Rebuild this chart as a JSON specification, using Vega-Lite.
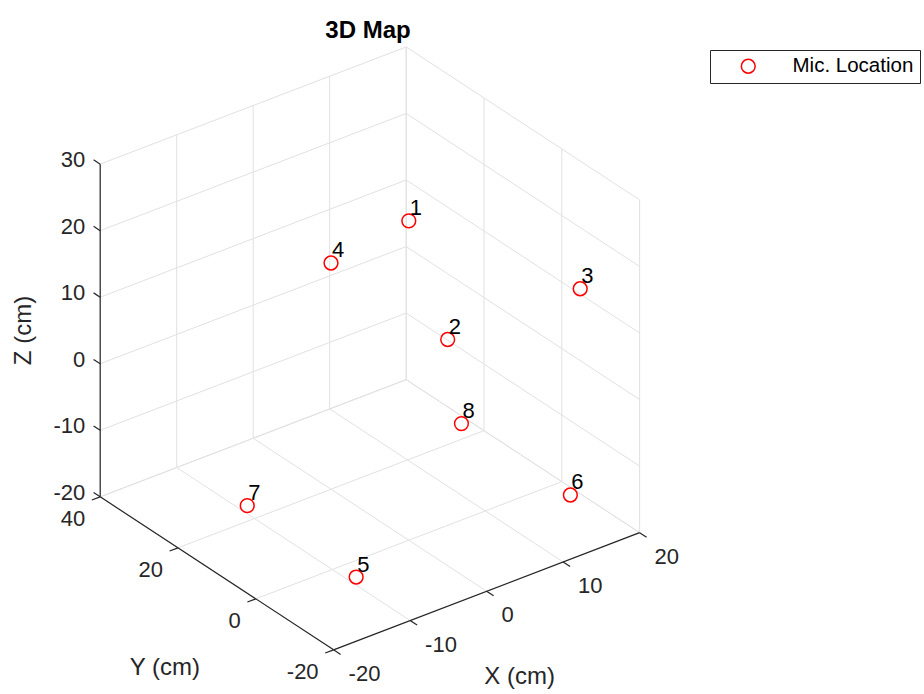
{
  "$schema": "https://vega.github.io/schema/vega-lite/v6.json",
  "width": 924,
  "height": 694,
  "autosize": {"type": "none"},
  "padding": 0,
  "background": "white",
  "config": {"view": {"stroke": null}, "font": "Liberation Sans"},
  "title": {"text": "3D Map", "fontSize": 24, "fontWeight": "bold", "font": "Liberation Sans", "color": "#000000", "anchor": "middle", "frame": "group", "dx": -94, "baseline": "alphabetic", "offset": -36, "dy": 26},
  "datasets": {
    "mics": [
      {"id": "1", "X": 0, "Y": 0, "Z": 28},
      {"id": "2", "X": 0, "Y": -10, "Z": 14},
      {"id": "3", "X": 17.32, "Y": -10, "Z": 14},
      {"id": "4", "X": 0, "Y": 20, "Z": 14},
      {"id": "5", "X": -14, "Y": -14, "Z": -14},
      {"id": "6", "X": 14, "Y": -14, "Z": -14},
      {"id": "7", "X": -14, "Y": 14, "Z": -14},
      {"id": "8", "X": 14, "Y": 14, "Z": -14}
    ],
    "grid": [
      {"a": "fx", "t": -20}, {"a": "fx", "t": -10}, {"a": "fx", "t": 0}, {"a": "fx", "t": 10}, {"a": "fx", "t": 20},
      {"a": "fy", "t": -20}, {"a": "fy", "t": 0}, {"a": "fy", "t": 20}, {"a": "fy", "t": 40},
      {"a": "bx", "t": -20}, {"a": "bx", "t": -10}, {"a": "bx", "t": 0}, {"a": "bx", "t": 10}, {"a": "bx", "t": 20},
      {"a": "bz", "t": -20}, {"a": "bz", "t": -10}, {"a": "bz", "t": 0}, {"a": "bz", "t": 10}, {"a": "bz", "t": 20}, {"a": "bz", "t": 30},
      {"a": "ry", "t": -20}, {"a": "ry", "t": 0}, {"a": "ry", "t": 20}, {"a": "ry", "t": 40},
      {"a": "rz", "t": -20}, {"a": "rz", "t": -10}, {"a": "rz", "t": 0}, {"a": "rz", "t": 10}, {"a": "rz", "t": 20}, {"a": "rz", "t": 30}
    ],
    "axes": [
      {"x1": -20, "y1": 40, "z1": -20, "x2": -20, "y2": 40, "z2": 30},
      {"x1": -20, "y1": 40, "z1": -20, "x2": -20, "y2": -20, "z2": -20},
      {"x1": -20, "y1": -20, "z1": -20, "x2": 20, "y2": -20, "z2": -20}
    ],
    "ticks": [
      {"axis": "X", "t": -20}, {"axis": "X", "t": -10}, {"axis": "X", "t": 0}, {"axis": "X", "t": 10}, {"axis": "X", "t": 20},
      {"axis": "Y", "t": -20}, {"axis": "Y", "t": 0}, {"axis": "Y", "t": 20}, {"axis": "Y", "t": 40},
      {"axis": "Z", "t": -20}, {"axis": "Z", "t": -10}, {"axis": "Z", "t": 0}, {"axis": "Z", "t": 10}, {"axis": "Z", "t": 20}, {"axis": "Z", "t": 30}
    ]
  },
  "layer": [
    {
      "data": {"name": "grid"},
      "transform": [
        {"calculate": "datum.a=='fx'||datum.a=='bx' ? datum.t : (datum.a=='ry'||datum.a=='rz' ? 20 : -20)", "as": "x1"},
        {"calculate": "datum.a=='fx'||datum.a=='bx' ? datum.t : 20", "as": "x2"},
        {"calculate": "datum.a=='fy'||datum.a=='ry' ? datum.t : (datum.a=='fx'||datum.a=='rz' ? -20 : 40)", "as": "y1"},
        {"calculate": "datum.a=='fy'||datum.a=='ry' ? datum.t : 40", "as": "y2"},
        {"calculate": "datum.a=='bz'||datum.a=='rz' ? datum.t : -20", "as": "z1"},
        {"calculate": "datum.a=='bz'||datum.a=='rz' ? datum.t : (datum.a=='fx'||datum.a=='fy' ? -20 : 30)", "as": "z2"},
        {"calculate": "408.8 + 7.65*datum.x1 - 3.89*datum.y1", "as": "sx1"},
        {"calculate": "407.15 - 2.93*datum.x1 - 2.55*datum.y1 - 6.654*datum.z1", "as": "sy1"},
        {"calculate": "408.8 + 7.65*datum.x2 - 3.89*datum.y2", "as": "sx2"},
        {"calculate": "407.15 - 2.93*datum.x2 - 2.55*datum.y2 - 6.654*datum.z2", "as": "sy2"}
      ],
      "mark": {"type": "rule", "color": "#e1e1e1", "strokeWidth": 1},
      "encoding": {
        "x": {"field": "sx1", "type": "quantitative", "scale": {"domain": [0, 924], "nice": false, "zero": false}, "axis": null},
        "y": {"field": "sy1", "type": "quantitative", "scale": {"domain": [0, 694], "nice": false, "zero": false, "reverse": true}, "axis": null},
        "x2": {"field": "sx2"},
        "y2": {"field": "sy2"}
      }
    },
    {
      "data": {"name": "axes"},
      "transform": [
        {"calculate": "408.8 + 7.65*datum.x1 - 3.89*datum.y1", "as": "sx1"},
        {"calculate": "407.15 - 2.93*datum.x1 - 2.55*datum.y1 - 6.654*datum.z1", "as": "sy1"},
        {"calculate": "408.8 + 7.65*datum.x2 - 3.89*datum.y2", "as": "sx2"},
        {"calculate": "407.15 - 2.93*datum.x2 - 2.55*datum.y2 - 6.654*datum.z2", "as": "sy2"}
      ],
      "mark": {"type": "rule", "color": "#262626", "strokeWidth": 1.2},
      "encoding": {
        "x": {"field": "sx1", "type": "quantitative", "scale": {"domain": [0, 924], "nice": false, "zero": false}, "axis": null},
        "y": {"field": "sy1", "type": "quantitative", "scale": {"domain": [0, 694], "nice": false, "zero": false, "reverse": true}, "axis": null},
        "x2": {"field": "sx2"},
        "y2": {"field": "sy2"}
      }
    },
    {
      "data": {"name": "ticks"},
      "transform": [
        {"calculate": "datum.axis=='X' ? datum.t : -20", "as": "x1"},
        {"calculate": "datum.axis=='Y' ? datum.t : (datum.axis=='X' ? -20 : 40)", "as": "y1"},
        {"calculate": "datum.axis=='Z' ? datum.t : -20", "as": "z1"},
        {"calculate": "datum.axis=='Y' ? datum.x1 - 1.1 : datum.x1", "as": "x2"},
        {"calculate": "datum.axis=='X' ? datum.y1 - 1.8 : (datum.axis=='Z' ? datum.y1 + 1.7 : datum.y1)", "as": "y2"},
        {"calculate": "408.8 + 7.65*datum.x1 - 3.89*datum.y1", "as": "sx1"},
        {"calculate": "407.15 - 2.93*datum.x1 - 2.55*datum.y1 - 6.654*datum.z1", "as": "sy1"},
        {"calculate": "408.8 + 7.65*datum.x2 - 3.89*datum.y2", "as": "sx2"},
        {"calculate": "407.15 - 2.93*datum.x2 - 2.55*datum.y2 - 6.654*datum.z1", "as": "sy2"}
      ],
      "mark": {"type": "rule", "color": "#262626", "strokeWidth": 1.2},
      "encoding": {
        "x": {"field": "sx1", "type": "quantitative", "scale": {"domain": [0, 924], "nice": false, "zero": false}, "axis": null},
        "y": {"field": "sy1", "type": "quantitative", "scale": {"domain": [0, 694], "nice": false, "zero": false, "reverse": true}, "axis": null},
        "x2": {"field": "sx2"},
        "y2": {"field": "sy2"}
      }
    },
    {
      "data": {"name": "ticks"},
      "transform": [
        {"filter": "datum.axis=='X'"},
        {"calculate": "'' + datum.t", "as": "lab"},
        {"calculate": "408.8 + 7.65*datum.t - 3.89*(-20)", "as": "sx"},
        {"calculate": "407.15 - 2.93*datum.t - 2.55*(-20) - 6.654*(-20)", "as": "sy"}
      ],
      "mark": {"type": "text", "align": "left", "baseline": "middle", "dx": 15, "dy": 24, "fontSize": 22, "font": "Liberation Sans", "color": "#262626"},
      "encoding": {
        "x": {"field": "sx", "type": "quantitative", "scale": {"domain": [0, 924], "nice": false, "zero": false}, "axis": null},
        "y": {"field": "sy", "type": "quantitative", "scale": {"domain": [0, 694], "nice": false, "zero": false, "reverse": true}, "axis": null},
        "text": {"field": "lab"}
      }
    },
    {
      "data": {"name": "ticks"},
      "transform": [
        {"filter": "datum.axis=='Y'"},
        {"calculate": "'' + datum.t", "as": "lab"},
        {"calculate": "408.8 + 7.65*(-20) - 3.89*datum.t", "as": "sx"},
        {"calculate": "407.15 - 2.93*(-20) - 2.55*datum.t - 6.654*(-20)", "as": "sy"}
      ],
      "mark": {"type": "text", "align": "right", "baseline": "middle", "dx": -15, "dy": 22, "fontSize": 22, "font": "Liberation Sans", "color": "#262626"},
      "encoding": {
        "x": {"field": "sx", "type": "quantitative", "scale": {"domain": [0, 924], "nice": false, "zero": false}, "axis": null},
        "y": {"field": "sy", "type": "quantitative", "scale": {"domain": [0, 694], "nice": false, "zero": false, "reverse": true}, "axis": null},
        "text": {"field": "lab"}
      }
    },
    {
      "data": {"name": "ticks"},
      "transform": [
        {"filter": "datum.axis=='Z'"},
        {"calculate": "'' + datum.t", "as": "lab"},
        {"calculate": "408.8 + 7.65*(-20) - 3.89*40", "as": "sx"},
        {"calculate": "407.15 - 2.93*(-20) - 2.55*40 - 6.654*datum.t", "as": "sy"}
      ],
      "mark": {"type": "text", "align": "right", "baseline": "middle", "dx": -15, "dy": -4, "fontSize": 22, "font": "Liberation Sans", "color": "#262626"},
      "encoding": {
        "x": {"field": "sx", "type": "quantitative", "scale": {"domain": [0, 924], "nice": false, "zero": false}, "axis": null},
        "y": {"field": "sy", "type": "quantitative", "scale": {"domain": [0, 694], "nice": false, "zero": false, "reverse": true}, "axis": null},
        "text": {"field": "lab"}
      }
    },
    {
      "data": {"values": [{"lab": "X (cm)", "X": 0, "Y": -20, "Z": -20}]},
      "transform": [
        {"calculate": "408.8 + 7.65*datum.X - 3.89*datum.Y", "as": "sx"},
        {"calculate": "407.15 - 2.93*datum.X - 2.55*datum.Y - 6.654*datum.Z", "as": "sy"}
      ],
      "mark": {"type": "text", "align": "center", "baseline": "middle", "dx": 33, "dy": 86, "fontSize": 24, "font": "Liberation Sans", "color": "#262626"},
      "encoding": {
        "x": {"field": "sx", "type": "quantitative", "scale": {"domain": [0, 924], "nice": false, "zero": false}, "axis": null},
        "y": {"field": "sy", "type": "quantitative", "scale": {"domain": [0, 694], "nice": false, "zero": false, "reverse": true}, "axis": null},
        "text": {"field": "lab"}
      }
    },
    {
      "data": {"values": [{"lab": "Y (cm)", "X": -20, "Y": 10, "Z": -20}]},
      "transform": [
        {"calculate": "408.8 + 7.65*datum.X - 3.89*datum.Y", "as": "sx"},
        {"calculate": "407.15 - 2.93*datum.X - 2.55*datum.Y - 6.654*datum.Z", "as": "sy"}
      ],
      "mark": {"type": "text", "align": "center", "baseline": "middle", "dx": -52, "dy": 95, "fontSize": 24, "font": "Liberation Sans", "color": "#262626"},
      "encoding": {
        "x": {"field": "sx", "type": "quantitative", "scale": {"domain": [0, 924], "nice": false, "zero": false}, "axis": null},
        "y": {"field": "sy", "type": "quantitative", "scale": {"domain": [0, 694], "nice": false, "zero": false, "reverse": true}, "axis": null},
        "text": {"field": "lab"}
      }
    },
    {
      "data": {"values": [{"lab": "Z (cm)", "X": -20, "Y": 40, "Z": 5}]},
      "transform": [
        {"calculate": "408.8 + 7.65*datum.X - 3.89*datum.Y", "as": "sx"},
        {"calculate": "407.15 - 2.93*datum.X - 2.55*datum.Y - 6.654*datum.Z", "as": "sy"}
      ],
      "mark": {"type": "text", "align": "center", "baseline": "middle", "angle": 270, "dx": 0, "dy": -76, "fontSize": 24, "font": "Liberation Sans", "color": "#262626"},
      "encoding": {
        "x": {"field": "sx", "type": "quantitative", "scale": {"domain": [0, 924], "nice": false, "zero": false}, "axis": null},
        "y": {"field": "sy", "type": "quantitative", "scale": {"domain": [0, 694], "nice": false, "zero": false, "reverse": true}, "axis": null},
        "text": {"field": "lab"}
      }
    },
    {
      "data": {"name": "mics"},
      "transform": [
        {"calculate": "408.8 + 7.65*datum.X - 3.89*datum.Y", "as": "sx"},
        {"calculate": "407.15 - 2.93*datum.X - 2.55*datum.Y - 6.654*datum.Z", "as": "sy"}
      ],
      "mark": {"type": "point", "shape": "circle", "filled": false, "strokeWidth": 1.5, "size": 190, "opacity": 1},
      "encoding": {
        "x": {"field": "sx", "type": "quantitative", "scale": {"domain": [0, 924], "nice": false, "zero": false}, "axis": null},
        "y": {"field": "sy", "type": "quantitative", "scale": {"domain": [0, 694], "nice": false, "zero": false, "reverse": true}, "axis": null},
        "stroke": {
          "datum": "Mic. Location",
          "type": "nominal",
          "scale": {"range": ["#ff0000"]},
          "legend": {"orient": "none", "legendX": 710, "legendY": 50, "title": null, "strokeColor": "#262626", "fillColor": "white", "padding": 6, "cornerRadius": 0, "symbolOffset": 22, "labelOffset": 34, "labelFontSize": 20.5, "labelFont": "Liberation Sans", "labelColor": "#000000", "symbolSize": 190, "symbolStrokeWidth": 1.5, "symbolType": "circle"}
        }
      }
    },
    {
      "data": {"name": "mics"},
      "transform": [
        {"calculate": "408.8 + 7.65*datum.X - 3.89*datum.Y", "as": "sx"},
        {"calculate": "407.15 - 2.93*datum.X - 2.55*datum.Y - 6.654*datum.Z", "as": "sy"}
      ],
      "mark": {"type": "text", "align": "left", "baseline": "alphabetic", "dx": 1, "dy": -5.5, "fontSize": 22, "font": "Liberation Sans", "color": "#000000"},
      "encoding": {
        "x": {"field": "sx", "type": "quantitative", "scale": {"domain": [0, 924], "nice": false, "zero": false}, "axis": null},
        "y": {"field": "sy", "type": "quantitative", "scale": {"domain": [0, 694], "nice": false, "zero": false, "reverse": true}, "axis": null},
        "text": {"field": "id"}
      }
    }
  ]
}
